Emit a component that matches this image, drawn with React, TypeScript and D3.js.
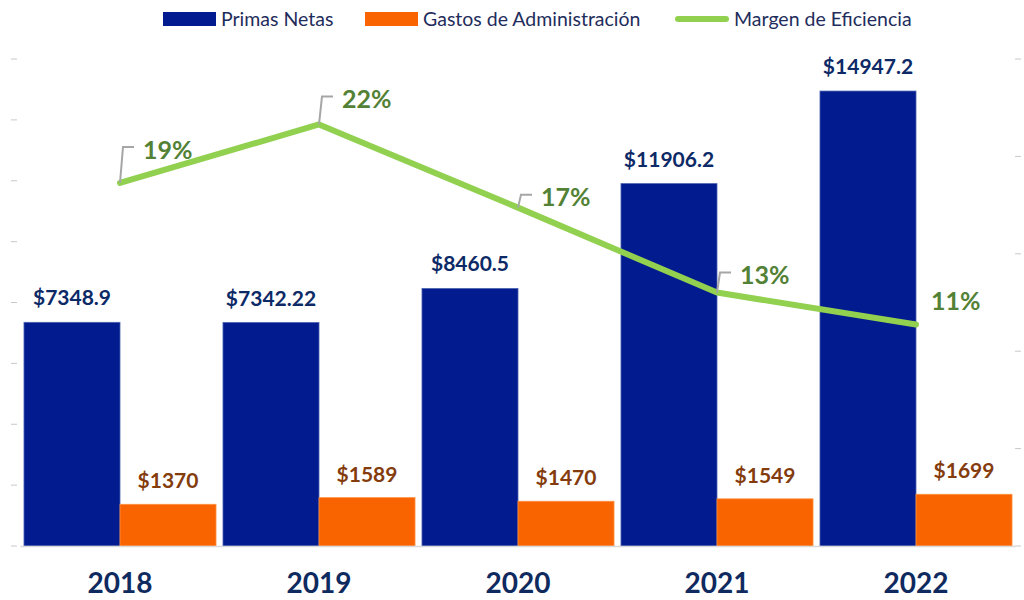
import React, { useRef, useEffect } from 'react';
import * as d3 from 'd3';

const years = ['2018', '2019', '2020', '2021', '2022'];
const primasNetas = [7348.9, 7342.22, 8460.5, 11906.2, 14947.2];
const primasLabels = ['$7348.9', '$7342.22', '$8460.5', '$11906.2', '$14947.2'];
const gastosAdmin = [1370, 1589, 1470, 1549, 1699];
const gastosLabels = ['$1370', '$1589', '$1470', '$1549', '$1699'];
const margen = [0.1864, 0.2164, 0.1737, 0.1301, 0.1137];
const margenLabels = ['19%', '22%', '17%', '13%', '11%'];
// label offsets for the percentage callouts (dy of leader, has leader)
const calloutDy = [-36, -28, -13, -20, -26];
const calloutLeader = [true, true, true, true, false];

const W = 1024;
const H = 600;
const FONT = 'Lato, "Open Sans", sans-serif';

export default function App() {
  const ref = useRef<SVGSVGElement>(null);

  useEffect(() => {
    const svg = d3.select(ref.current);
    svg.selectAll('*').remove();

    const left = 20.5, right = 1015.5, top = 59, bottom = 546;

    const x0 = d3.scaleBand().domain(years).range([left, right]).paddingInner(0.035).paddingOuter(0.0175);
    const x1 = d3.scaleBand().domain(['p', 'g']).range([0, x0.bandwidth()]);
    const y = d3.scaleLinear().domain([0, 16000]).range([bottom, top]);
    const y2 = d3.scaleLinear().domain([0, 0.25]).range([bottom, top]);

    // left ticks (no labels)
    svg.append('g').selectAll('line').data(y.ticks(8)).enter().append('line')
      .attr('x1', 11).attr('x2', 17)
      .attr('y1', d => y(d)).attr('y2', d => y(d))
      .attr('stroke', '#c8c8c8').attr('stroke-width', 1);

    // right ticks
    svg.append('g').selectAll('line').data(y2.ticks(5)).enter().append('line')
      .attr('x1', 1015).attr('x2', 1021)
      .attr('y1', d => y2(d)).attr('y2', d => y2(d))
      .attr('stroke', '#c8c8c8').attr('stroke-width', 1);

    const groups = svg.append('g').selectAll('g').data(years).enter().append('g')
      .attr('transform', d => `translate(${x0(d)},0)`);

    groups.append('rect')
      .attr('x', x1('p')!)
      .attr('width', x1.bandwidth())
      .attr('y', (d, i) => y(primasNetas[i]))
      .attr('height', (d, i) => bottom - y(primasNetas[i]))
      .attr('fill', '#021c8f')
      .attr('stroke', '#4a62b0').attr('stroke-width', 0.8);

    groups.append('rect')
      .attr('x', x1('g')!)
      .attr('width', x1.bandwidth())
      .attr('y', (d, i) => y(gastosAdmin[i]))
      .attr('height', (d, i) => bottom - y(gastosAdmin[i]))
      .attr('fill', '#f96300')
      .attr('stroke', '#ff9040').attr('stroke-width', 0.8);

    groups.append('text')
      .attr('x', x1('p')! + x1.bandwidth() / 2)
      .attr('y', (d, i) => y(primasNetas[i]) - 17)
      .attr('text-anchor', 'middle')
      .attr('font-family', FONT).attr('font-weight', 700).attr('font-size', 21)
      .attr('fill', '#0d2a67')
      .text((d, i) => primasLabels[i]);

    groups.append('text')
      .attr('x', x1('g')! + x1.bandwidth() / 2)
      .attr('y', (d, i) => y(gastosAdmin[i]) - 16)
      .attr('text-anchor', 'middle')
      .attr('font-family', FONT).attr('font-weight', 700).attr('font-size', 21)
      .attr('fill', '#843c0c')
      .text((d, i) => gastosLabels[i]);

    groups.append('text')
      .attr('x', x0.bandwidth() / 2)
      .attr('y', 593)
      .attr('text-anchor', 'middle')
      .attr('font-family', FONT).attr('font-weight', 700).attr('font-size', 28)
      .attr('fill', '#0f2a5e')
      .text(d => d);

    // baseline
    svg.append('line')
      .attr('x1', left).attr('x2', right)
      .attr('y1', bottom + 0.5).attr('y2', bottom + 0.5)
      .attr('stroke', '#d9d9d9').attr('stroke-width', 1.5);

    // line
    const cx = (d: string) => x0(d)! + x0.bandwidth() / 2;
    const line = d3.line<number>()
      .x((d, i) => cx(years[i]))
      .y(d => y2(d));
    svg.append('path')
      .datum(margen)
      .attr('d', line)
      .attr('fill', 'none')
      .attr('stroke', '#92d050')
      .attr('stroke-width', 6)
      .attr('stroke-linecap', 'round')
      .attr('stroke-linejoin', 'round');

    // callouts
    margen.forEach((v, i) => {
      const px = cx(years[i]);
      const py = y2(v);
      const ly = py + calloutDy[i];
      if (calloutLeader[i]) {
        svg.append('path')
          .attr('d', `M${px},${py} L${px + 3},${ly} L${px + 14},${ly}`)
          .attr('fill', 'none')
          .attr('stroke', '#a6a6a6')
          .attr('stroke-width', 2);
      }
      svg.append('text')
        .attr('x', px + (calloutLeader[i] ? 23 : 15))
        .attr('y', ly + 3)
        .attr('dy', '0.35em')
        .attr('font-family', FONT).attr('font-weight', 700).attr('font-size', 25)
        .attr('fill', '#538135')
        .text(margenLabels[i]);
    });

    // legend
    const legend = [
      { label: 'Primas Netas', x: 163, type: 'rect', color: '#021c8f' },
      { label: 'Gastos de Administración', x: 365, type: 'rect', color: '#f96300' },
      { label: 'Margen de Eficiencia', x: 676, type: 'line', color: '#92d050' },
    ];
    const lg = svg.append('g');
    legend.forEach(l => {
      if (l.type === 'rect') {
        lg.append('rect').attr('x', l.x).attr('y', 12).attr('width', 53).attr('height', 14).attr('fill', l.color);
      } else {
        lg.append('line').attr('x1', l.x + 2).attr('x2', l.x + 50).attr('y1', 19).attr('y2', 19)
          .attr('stroke', l.color).attr('stroke-width', 6).attr('stroke-linecap', 'round');
      }
      lg.append('text')
        .attr('x', l.x + 58).attr('y', 26)
        .attr('font-family', FONT).attr('font-size', 19.5)
        .attr('fill', '#1f2d5c')
        .text(l.label);
    });
  }, []);

  return (
    <div style={{ position: 'absolute', left: 0, top: 0 }}>
      <svg ref={ref} width={W} height={H} style={{ display: 'block', background: '#fff' }} />
    </div>
  );
}
